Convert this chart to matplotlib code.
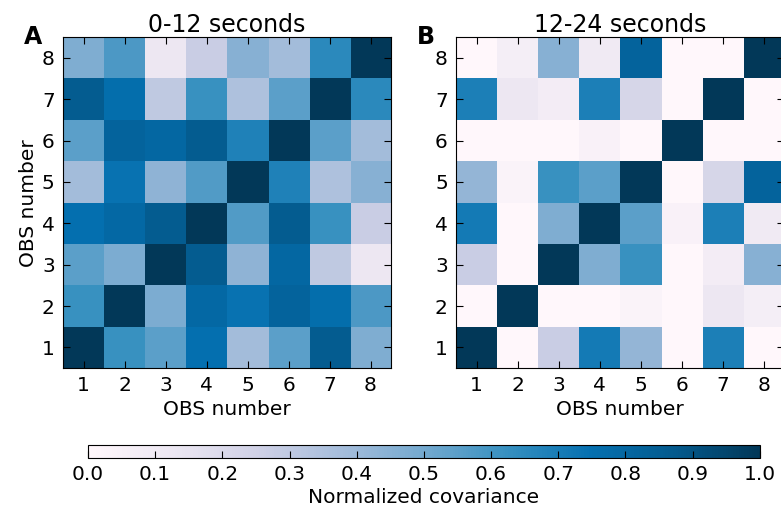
import numpy as np
import matplotlib
matplotlib.use('Agg')
import matplotlib.pyplot as plt

obs = [1, 2, 3, 4, 5, 6, 7, 8]
cbar_ticks = [0.0, 0.1, 0.2, 0.3, 0.4, 0.5, 0.6, 0.7, 0.8, 0.9, 1.0]

# rows: OBS 1..8 (y), columns: OBS 1..8 (x)
cov_0_12 = [
    [1.00, 0.62, 0.55, 0.75, 0.38, 0.55, 0.86, 0.47],
    [0.62, 1.00, 0.48, 0.79, 0.74, 0.82, 0.76, 0.58],
    [0.55, 0.48, 1.00, 0.86, 0.43, 0.80, 0.30, 0.12],
    [0.75, 0.79, 0.86, 1.00, 0.57, 0.86, 0.62, 0.27],
    [0.38, 0.74, 0.43, 0.57, 1.00, 0.68, 0.35, 0.45],
    [0.55, 0.82, 0.80, 0.86, 0.68, 1.00, 0.55, 0.38],
    [0.86, 0.76, 0.30, 0.62, 0.35, 0.55, 1.00, 0.65],
    [0.47, 0.58, 0.12, 0.27, 0.45, 0.38, 0.65, 1.00],
]
cov_12_24 = [
    [1.00, 0.00, 0.27, 0.71, 0.42, 0.00, 0.69, 0.00],
    [0.00, 1.00, 0.00, 0.00, 0.03, 0.00, 0.12, 0.07],
    [0.27, 0.00, 1.00, 0.47, 0.62, 0.00, 0.08, 0.45],
    [0.71, 0.00, 0.47, 1.00, 0.55, 0.04, 0.69, 0.10],
    [0.42, 0.03, 0.62, 0.55, 1.00, 0.00, 0.22, 0.82],
    [0.00, 0.00, 0.00, 0.04, 0.00, 1.00, 0.00, 0.00],
    [0.69, 0.12, 0.08, 0.69, 0.22, 0.00, 1.00, 0.00],
    [0.00, 0.07, 0.45, 0.10, 0.82, 0.00, 0.00, 1.00],
]

plt.rcParams['font.family'] = 'DejaVu Sans'
plt.rcParams['xtick.direction'] = 'in'
plt.rcParams['ytick.direction'] = 'in'
plt.rcParams['xtick.top'] = True
plt.rcParams['ytick.right'] = True
plt.rcParams['xtick.major.size'] = 5
plt.rcParams['ytick.major.size'] = 5

fig = plt.figure(figsize=(7.81, 5.17), dpi=100)
ax1 = fig.add_axes([0.0807, 0.288, 0.42, 0.640])
ax2 = fig.add_axes([0.584, 0.288, 0.42, 0.640])
cax = fig.add_axes([0.1127, 0.114, 0.860, 0.025])

panels = [(ax1, cov_0_12, '0-12 seconds', 'A'), (ax2, cov_12_24, '12-24 seconds', 'B')]
for ax, mat, title, letter in panels:
    im = ax.imshow(np.array(mat), cmap='PuBu', vmin=0, vmax=1, origin='lower',
                   interpolation='nearest', aspect='auto',
                   extent=[0.5, 8.5, 0.5, 8.5])
    ax.set_xticks(obs)
    ax.set_yticks(obs)
    ax.tick_params(labelsize=14.5, pad=6)
    ax.set_xlabel('OBS number', fontsize=14.5, labelpad=3)
    ax.set_title(title, fontsize=17, pad=3)
    ax.text(-0.12, 1.0, letter, transform=ax.transAxes, fontsize=17,
            fontweight='bold', ha='left', va='center')
ax1.set_ylabel('OBS number', fontsize=14.5, labelpad=3)

cb = fig.colorbar(im, cax=cax, orientation='horizontal', ticks=cbar_ticks)
cb.ax.tick_params(labelsize=14.5, direction='in', length=5, top=False, pad=5)
cb.set_label('Normalized covariance', fontsize=14.5, labelpad=3)

fig.savefig('out.png', dpi=100, facecolor='white')
